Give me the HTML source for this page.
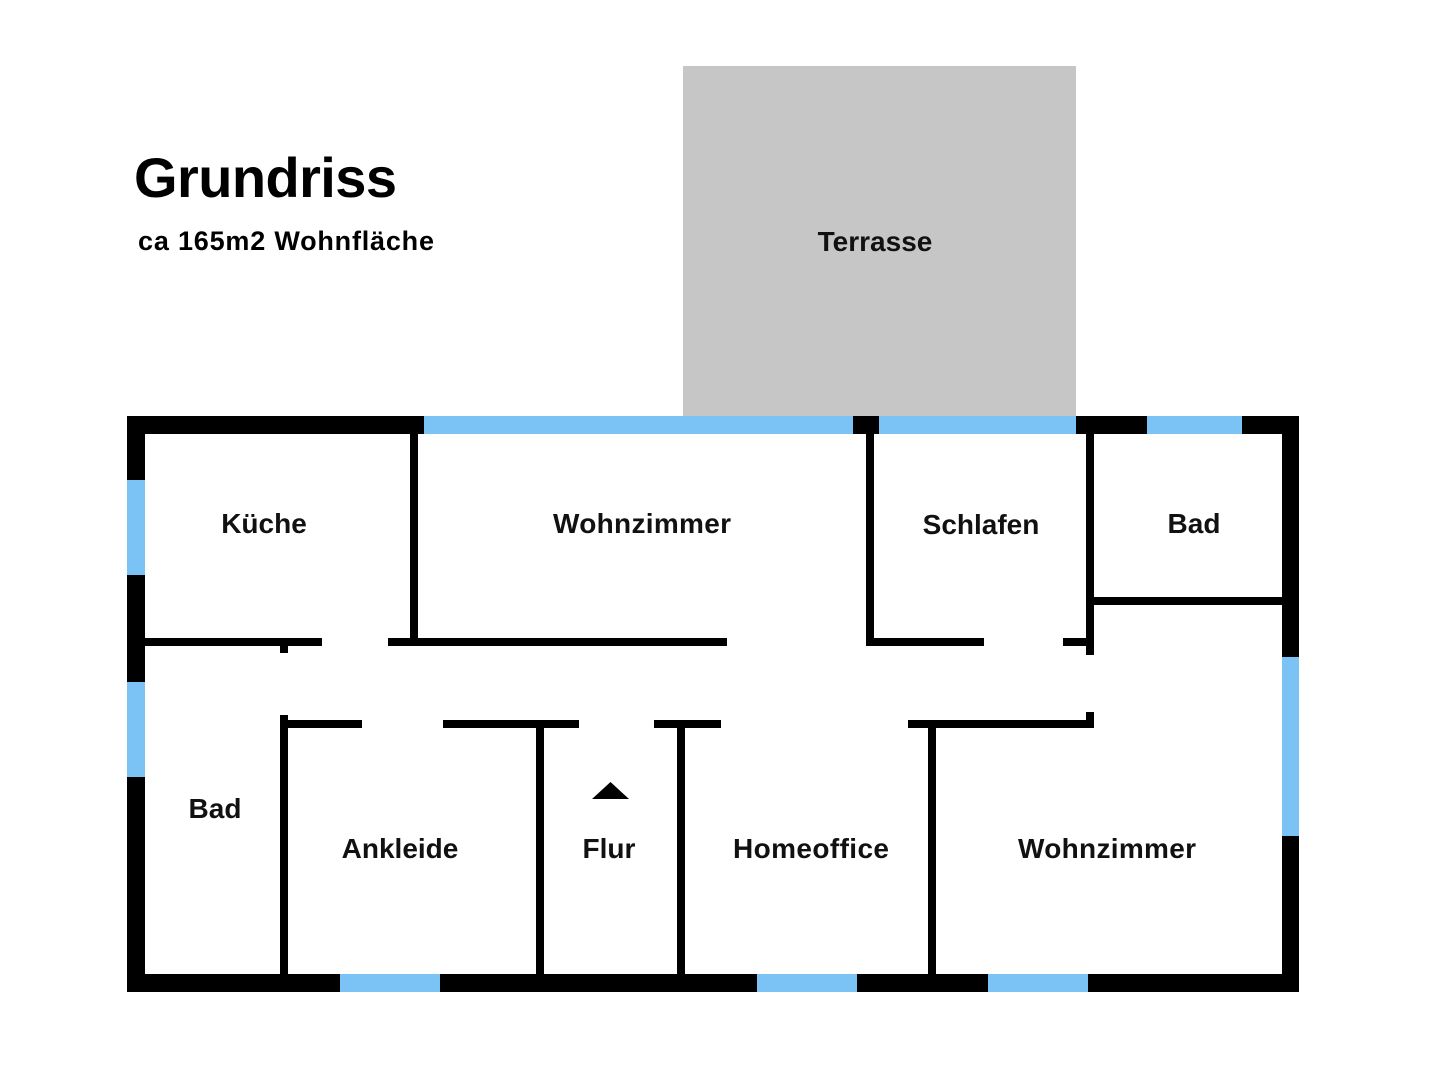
<!DOCTYPE html>
<html><head><meta charset="utf-8"><style>html,body{margin:0;padding:0;background:#fff}svg{display:block}</style></head>
<body>
<svg width="1440" height="1080" viewBox="0 0 1440 1080" xmlns="http://www.w3.org/2000/svg" font-family="Liberation Sans, sans-serif" font-weight="bold">
<rect width="1440" height="1080" fill="#fff"/>
<rect x="683" y="66" width="393" height="350" fill="#c6c6c6"/>
<text x="875" y="251" font-size="28" text-anchor="middle" fill="#111">Terrasse</text>
<text x="134" y="197" font-size="56" fill="#000" textLength="263">Grundriss</text>
<text x="138" y="250" font-size="27" fill="#000" textLength="296">ca 165m2 Wohnfläche</text>
<g fill="#000">
<rect x="127" y="416" width="1172" height="18"/>
<rect x="127" y="974" width="1172" height="18"/>
<rect x="127" y="416" width="18" height="576"/>
<rect x="1282" y="416" width="17" height="576"/>
</g>
<g fill="#7cc3f5">
<rect x="424" y="416" width="429" height="18"/>
<rect x="879" y="416" width="197" height="18"/>
<rect x="1147" y="416" width="95" height="18"/>
<rect x="127" y="480" width="18" height="95"/>
<rect x="127" y="682" width="18" height="95"/>
<rect x="1282" y="657" width="17" height="179"/>
<rect x="340" y="974" width="100" height="18"/>
<rect x="757" y="974" width="100" height="18"/>
<rect x="988" y="974" width="100" height="18"/>
</g>
<g fill="#000">
<rect x="410" y="434" width="8" height="212"/>
<rect x="145" y="638" width="177" height="8"/>
<rect x="388" y="638" width="339" height="8"/>
<rect x="280" y="645" width="8" height="8"/>
<rect x="866" y="434" width="8" height="212"/>
<rect x="866" y="638" width="118" height="8"/>
<rect x="1063" y="638" width="31" height="8"/>
<rect x="1086" y="434" width="8" height="221"/>
<rect x="1090" y="597" width="192" height="8"/>
<rect x="280" y="720" width="82" height="8"/>
<rect x="443" y="720" width="136" height="8"/>
<rect x="654" y="720" width="67" height="8"/>
<rect x="908" y="720" width="186" height="8"/>
<rect x="1086" y="712" width="8" height="16"/>
<rect x="280" y="715" width="8" height="259"/>
<rect x="536" y="728" width="8" height="246"/>
<rect x="677" y="728" width="8" height="246"/>
<rect x="928" y="728" width="8" height="246"/>
<polygon points="592,799 629,799 610.5,782"/>
</g>
<g font-size="28" text-anchor="middle" fill="#111">
<text x="264" y="533">Küche</text>
<text x="642" y="533" textLength="178">Wohnzimmer</text>
<text x="981" y="534">Schlafen</text>
<text x="1194" y="533">Bad</text>
<text x="215" y="818">Bad</text>
<text x="400" y="858">Ankleide</text>
<text x="609" y="858">Flur</text>
<text x="811" y="858" textLength="156">Homeoffice</text>
<text x="1107" y="858" textLength="178">Wohnzimmer</text>
</g>
</svg>
</body></html>
